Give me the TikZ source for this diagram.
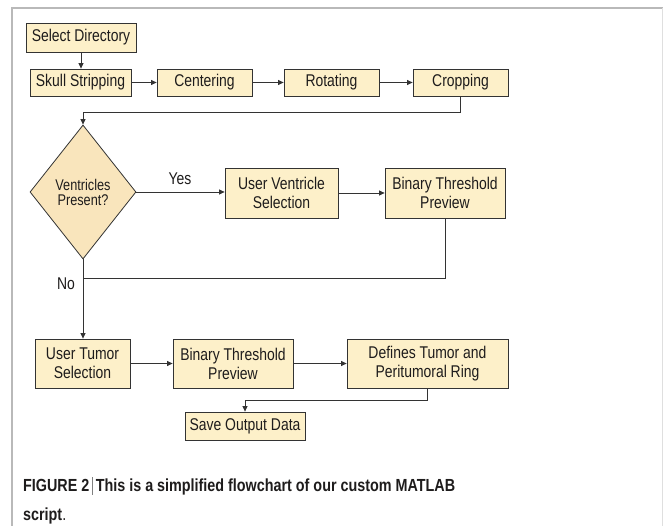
\documentclass[tikz,border=0pt]{standalone}
\usepackage{fontspec}
\usetikzlibrary{shapes.geometric,arrows.meta,calc}
\setmainfont{Liberation Sans}
\newfontfamily\nodefont[FakeStretch=0.82]{Liberation Sans}
\definecolor{boxfill}{HTML}{FDF0C9}
\definecolor{diafill}{HTML}{F9E5BC}
\definecolor{linec}{HTML}{333333}
\definecolor{txt}{HTML}{1E1C1C}
\begin{document}
\begin{tikzpicture}[x=1pt,y=-1pt,
  box/.style={draw=linec,line width=0.8pt,fill=boxfill,inner sep=0pt,
    font=\nodefont\fontsize{17}{19}\selectfont,text=txt,align=center},
  dia/.style={draw=linec,line width=0.8pt,fill=diafill,shape=diamond,inner sep=0pt,
    minimum width=106pt,minimum height=134pt,
    font=\nodefont\fontsize{15.5}{15}\selectfont,text=txt,align=center},
  arr/.style={draw=linec,line width=0.8pt,-{Triangle[length=5.5pt,width=5pt]}},
  ln/.style={draw=linec,line width=0.8pt},
  lab/.style={font=\nodefont\fontsize{17}{19}\selectfont,text=txt,inner sep=0pt},
  captext/.style={font=\nodefont\bfseries\fontsize{17.5}{20}\selectfont,text=txt,inner sep=0pt,anchor=base west}]
\useasboundingbox (0,0) rectangle (663,526);
\fill[white] (0,0) rectangle (663,526);
% frame
\draw[gray!55,line width=2pt] (12,530) -- (12,8) -- (663,8);
\draw[gray!25,line width=1pt] (662,8) -- (662,530);
% nodes
\node[box,minimum width=110pt,minimum height=29pt] (sel) at (81,37.5) {Select Directory};
\node[box,minimum width=101pt,minimum height=27pt] (skull) at (80.5,82.5) {Skull Stripping};
\node[box,minimum width=95pt,minimum height=27pt] (cent) at (204.5,82.5) {Centering};
\node[box,minimum width=95pt,minimum height=27pt] (rot) at (331.5,82.5) {Rotating};
\node[box,minimum width=95pt,minimum height=27pt] (crop) at (460.5,82.5) {Cropping};
\node[dia] (dp) at (83,192) {Ventricles\\Present?};
\node[box,minimum width=113pt,minimum height=50pt] (uvs) at (281.5,193) {User Ventricle\\Selection};
\node[box,minimum width=120pt,minimum height=50pt] (btpa) at (445,193) {Binary Threshold\\Preview};
\node[box,minimum width=95pt,minimum height=49pt] (uts) at (82.5,363.5) {User Tumor\\Selection};
\node[box,minimum width=120pt,minimum height=49pt] (btpb) at (233,363.5) {Binary Threshold\\Preview};
\node[box,minimum width=161pt,minimum height=49pt] (dtpr) at (427.5,363.5) {Defines Tumor and\\Peritumoral Ring};
\node[box,minimum width=120pt,minimum height=28pt] (save) at (245,426) {Save Output Data};
% labels
\node[lab] (yes) at (180,179) {Yes};
\node[lab] (no) at (66,284) {No};
% connectors
\draw[arr] (sel.south) -- (sel.south |- skull.north);
\draw[arr] (skull) -- (cent);
\draw[arr] (cent) -- (rot);
\draw[arr] (rot) -- (crop);
\coordinate (c1) at (460.5,112);
\draw[arr] (crop.south) -- (c1) -| (dp.north);
\draw[arr] (dp.east) -- (uvs.west |- dp.east);
\draw[arr] (uvs) -- (btpa);
\coordinate (j1) at (83,278);
\draw[ln] (btpa.south) |- (j1);
\draw[arr] (dp.south) -- (dp.south |- uts.north);
\draw[arr] (uts) -- (btpb);
\draw[arr] (btpb) -- (dtpr);
\coordinate (c2) at (427.5,400);
\draw[arr] (dtpr.south) -- (c2) -| (save.north);
% caption
\node[captext] (cap1) at (23,491) {FIGURE 2\,{\mdseries\color{gray}\rule[-0.22em]{0.6pt}{1.02em}}\,This is a simplified flowchart of our custom MATLAB};
\node[captext] (cap2) at (23,520) {script{\mdseries .}};
\end{tikzpicture}
\end{document}
